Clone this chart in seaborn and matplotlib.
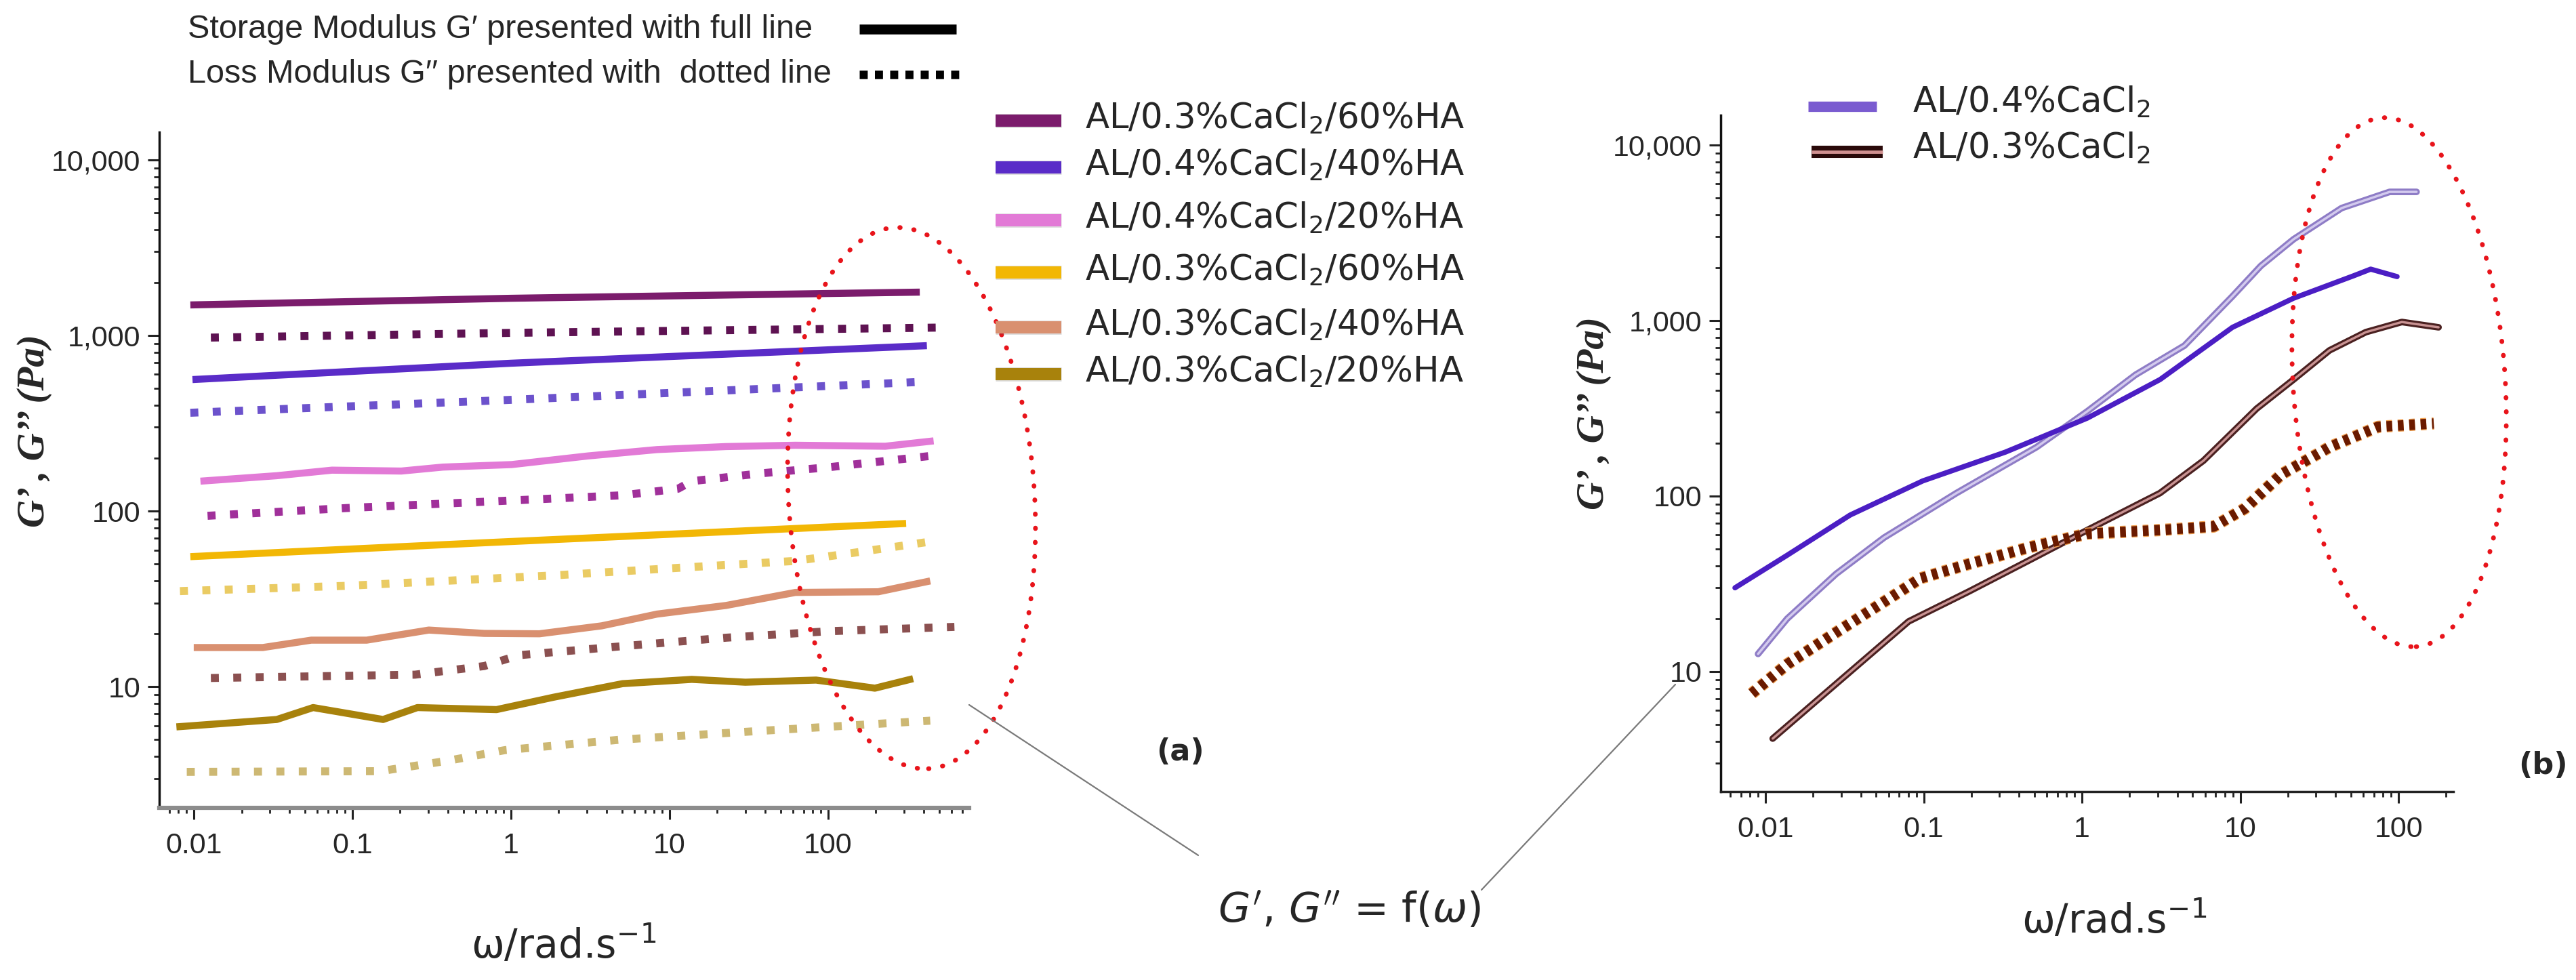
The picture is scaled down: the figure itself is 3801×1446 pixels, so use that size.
import matplotlib
matplotlib.use("Agg")
import matplotlib.pyplot as plt
import matplotlib.patheffects as pe
from matplotlib.patches import Ellipse
from matplotlib.lines import Line2D
from matplotlib.ticker import FixedLocator, FixedFormatter, LogLocator, NullFormatter
import seaborn as sns

sns.set_style("white")
plt.rcParams['font.family'] = ['DejaVu Sans']
NARROW = ['Liberation Sans Narrow', 'Liberation Sans', 'DejaVu Sans']
SERIF = ['Liberation Serif', 'DejaVu Serif']

# ---------------- data: panel (a) ----------------
labels_a = ["AL/0.3%CaCl$_2$/60%HA", "AL/0.4%CaCl$_2$/40%HA", "AL/0.4%CaCl$_2$/20%HA",
            "AL/0.3%CaCl$_2$/60%HA", "AL/0.3%CaCl$_2$/40%HA", "AL/0.3%CaCl$_2$/20%HA"]

w_a1_gp = [0.0095, 1.0, 378];  a1_gp = [1493, 1629, 1766]
w_a1_gpp = [0.0128, 1.0, 538]; a1_gpp = [973, 1035, 1110]

w_a2_gp = [0.0098, 1.0, 419];  a2_gp = [561, 695, 875]
w_a2_gpp = [0.0095, 1.0, 419]; a2_gpp = [363, 430, 546]

w_a3_gp = [0.0110, 0.0333, 0.0743, 0.203, 0.371, 1.01, 3.05, 8.34, 22.7, 62.1, 229, 462]
a3_gp = [148, 159, 171, 169, 178, 184, 206, 224, 233, 237, 234, 251]
w_a3_gpp = [0.0122, 0.091, 0.678, 5.05, 11.3, 13.8, 37.6, 102.6, 440]
a3_gpp = [94, 104, 113, 123, 134, 148, 164, 178, 206]

w_a4_gp = [0.0095, 0.678, 310]; a4_gp = [55, 66, 85]
w_a4_gpp = [0.00817, 0.091, 1.85, 13.8, 62.1, 169, 440]
a4_gpp = [35, 37.5, 43, 48, 52, 59, 67]

w_a5_gp = [0.00998, 0.0272, 0.0550, 0.123, 0.303, 0.678, 1.51, 3.73, 8.34, 22.7, 62.1, 207, 440]
a5_gp = [16.7, 16.7, 18.4, 18.4, 21, 20.1, 20, 22.2, 25.9, 29, 34.4, 34.7, 40]
w_a5_gpp = [0.0128, 0.248, 0.678, 1.12, 5.05, 22.7, 102.6, 625]
a5_gpp = [11.2, 11.7, 13.1, 15.1, 17, 19, 20.7, 21.9]

w_a6_gp = [0.00776, 0.0333, 0.0565, 0.156, 0.257, 0.81, 1.85, 5.05, 13.8, 30, 83.9, 197, 343]
a6_gp = [5.9, 6.5, 7.6, 6.5, 7.6, 7.4, 8.7, 10.4, 11.0, 10.6, 10.9, 9.8, 11.1]
w_a6_gpp = [0.00902, 0.150, 0.410, 0.916, 5.05, 37.6, 440]
a6_gpp = [3.27, 3.3, 3.8, 4.35, 5.0, 5.6, 6.4]

colors_a_solid = ["#7B1C6C", "#5A2CC8", "#E27AD6", "#F2B705", "#D99070", "#A8820C"]
colors_a_dot = ["#5E1252", "#6C52CC", "#A0309A", "#EACB63", "#8B5050", "#CDB873"]

# ---------------- data: panel (b) ----------------
labels_b = ["AL/0.4%CaCl$_2$", "AL/0.3%CaCl$_2$"]
w_b1_gp = [0.00897, 0.0137, 0.0279, 0.0562, 0.161, 0.516, 1.08, 2.18, 4.44, 8.93, 13.5, 21.7, 43.7, 87.9, 130]
b1_gp = [12.6, 20, 36, 58, 104, 190, 304, 491, 720, 1376, 2050, 2904, 4374, 5410, 5410]
w_b1_gpp = [0.00641, 0.0137, 0.0343, 0.0986, 0.328, 1.08, 3.11, 8.93, 21.7, 52.1, 66.7, 97.9]
b1_gpp = [30, 46, 78, 122, 178, 278, 461, 915, 1340, 1800, 1963, 1780]
w_b2_gp = [0.0111, 0.0279, 0.0802, 0.193, 0.463, 1.08, 3.11, 5.85, 12.7, 21.7, 36.6, 62.2, 105, 179]
b2_gp = [4.15, 8.5, 19.3, 28.6, 43, 64, 104, 159, 315, 461, 676, 859, 981, 915]
w_b2_gpp = [0.0082, 0.0137, 0.0279, 0.0562, 0.0955, 0.193, 0.463, 1.08, 3.11, 6.78, 10.7, 18.2, 30.6, 36.6, 74.3, 167]
b2_gpp = [7.5, 11, 16.7, 25, 34, 41, 51, 61, 64, 67, 85, 133, 173, 190, 248, 259]

yticks = [10, 100, 1000, 10000]
ytick_labels = ["10", "100", "1,000", "10,000"]
xticks = [0.01, 0.1, 1, 10, 100]
xtick_labels = ["0.01", "0.1", "1", "10", "100"]

# ---------------- figure ----------------
W, H = 3801, 1446
fig = plt.figure(figsize=(W / 100, H / 100), dpi=100)


def fbox(x0, y0, x1, y1):
    return [x0 / W, 1 - y1 / H, (x1 - x0) / W, (y1 - y0) / H]


def fx(x):
    return x / W


def fy(y):
    return 1 - y / H


axA = fig.add_axes(fbox(235, 195, 1430, 1192))
axB = fig.add_axes(fbox(2539, 170, 3620, 1168))

# panel (a) lines
sets_a = [(w_a1_gp, a1_gp, w_a1_gpp, a1_gpp), (w_a2_gp, a2_gp, w_a2_gpp, a2_gpp),
          (w_a3_gp, a3_gp, w_a3_gpp, a3_gpp), (w_a4_gp, a4_gp, w_a4_gpp, a4_gpp),
          (w_a5_gp, a5_gp, w_a5_gpp, a5_gpp), (w_a6_gp, a6_gp, w_a6_gpp, a6_gpp)]
for i, (wg, g, wgg, gg) in enumerate(sets_a):
    sns.lineplot(x=wg, y=g, ax=axA, color=colors_a_solid[i], lw=7.5, errorbar=None,
                 legend=False, solid_capstyle='butt', solid_joinstyle='round')
    sns.lineplot(x=wgg, y=gg, ax=axA, color=colors_a_dot[i], lw=8.5, errorbar=None,
                 legend=False, linestyle=(0, (1.0, 1.8)), dash_capstyle='butt')

# panel (b) lines
sns.lineplot(x=w_b1_gp, y=b1_gp, ax=axB, color="#D3CAEE", lw=2.5, errorbar=None, legend=False,
             path_effects=[pe.Stroke(linewidth=7, foreground="#8E7CC6"), pe.Normal()])
sns.lineplot(x=w_b1_gpp, y=b1_gpp, ax=axB, color="#4B1EC4", lw=5.5, errorbar=None, legend=False)
sns.lineplot(x=w_b2_gp, y=b2_gp, ax=axB, color="#C99393", lw=2.5, errorbar=None, legend=False,
             path_effects=[pe.Stroke(linewidth=7, foreground="#4A2020"), pe.Normal()])
sns.lineplot(x=w_b2_gpp, y=b2_gpp, ax=axB, color="#6A1A00", lw=11, errorbar=None, legend=False,
             linestyle=(0, (0.55, 0.55)), dash_capstyle='butt',
             path_effects=[pe.Stroke(linewidth=13, foreground="#F0A050"), pe.Normal()])

for ax, xlim, ylim, bottom_col in [(axA, (0.00605, 774), (2.04, 14390), "#8c8c8c"),
                                   (axB, (0.00521, 222), (2.07, 14790), "#222222")]:
    ax.set_xscale('log')
    ax.set_yscale('log')
    ax.set_xlim(*xlim)
    ax.set_ylim(*ylim)
    ax.set_facecolor('white')
    for s in ['top', 'right']:
        ax.spines[s].set_visible(False)
    ax.spines['left'].set_color('#111111')
    ax.spines['left'].set_linewidth(2.5)
    ax.spines['bottom'].set_color(bottom_col)
    ax.spines['bottom'].set_linewidth(4.5 if ax is axA else 2.5)
    ax.yaxis.set_major_locator(FixedLocator(yticks))
    ax.yaxis.set_major_formatter(FixedFormatter(ytick_labels))
    ax.xaxis.set_major_locator(FixedLocator(xticks))
    ax.xaxis.set_major_formatter(FixedFormatter(xtick_labels))
    ax.xaxis.set_minor_locator(LogLocator(base=10, subs=range(2, 10), numticks=20))
    ax.yaxis.set_minor_locator(LogLocator(base=10, subs=range(2, 10), numticks=20))
    ax.xaxis.set_minor_formatter(NullFormatter())
    ax.yaxis.set_minor_formatter(NullFormatter())
    ax.tick_params(which='major', direction='out', length=12, width=2.2, color='#222222',
                   labelsize=31, pad=8, bottom=True, left=True)
    ax.tick_params(which='minor', direction='out', length=6, width=2.0, color='#222222',
                   bottom=True, left=True)
    ax.tick_params(axis='x', pad=14)
    for lab in ax.get_xticklabels() + ax.get_yticklabels():
        lab.set_family(NARROW)
    ax.set_xlabel("")
    ax.set_ylabel("")

# y labels
ylab = "G’ , G’’ (Pa)"
fig.text(fx(51), fy(636), ylab, rotation=90, ha='center', va='center',
         fontsize=41, fontweight='bold', fontstyle='italic', family=SERIF)
fig.text(fx(2352), fy(610), ylab, rotation=90, ha='center', va='center',
         fontsize=41, fontweight='bold', fontstyle='italic', family=SERIF)

# x labels
fig.text(fx(832), fy(1395), r"ω/rad.s$^{\mathregular{-1}}$", ha='center', va='center', fontsize=42)
fig.text(fx(3120), fy(1358), r"ω/rad.s$^{\mathregular{-1}}$", ha='center', va='center', fontsize=42)

# panel tags
fig.text(fx(1742), fy(1110), "(a)", ha='center', va='center', fontsize=32, fontweight='bold')
fig.text(fx(3752), fy(1129), "(b)", ha='center', va='center', fontsize=32, fontweight='bold')

# central formula and connectors
fig.text(fx(1991), fy(1344), r"$G'$, $G''$ = f($\omega$)", ha='center', va='center', fontsize=44)
fig.add_artist(Line2D([fx(1430), fx(1768)], [fy(1040), fy(1262)], color='#7a7a7a', lw=1.6))
fig.add_artist(Line2D([fx(2186), fx(2472)], [fy(1313), fy(1010)], color='#7a7a7a', lw=1.6))

# top style legend
fig.text(fx(277), fy(43), "Storage Modulus G′ presented with full line", ha='left', va='center',
         fontsize=35, family=NARROW)
fig.text(fx(277), fy(110), "Loss Modulus G′′ presented with  dotted line", ha='left', va='center',
         fontsize=35, family=NARROW)
fig.add_artist(Line2D([fx(1268), fx(1411)], [fy(43), fy(43)], color='black', lw=10.5,
                      solid_capstyle='butt'))
fig.add_artist(Line2D([fx(1268), fx(1420)], [fy(110), fy(110)], color='black', lw=9,
                      linestyle=(0, (0.95, 0.85)), dash_capstyle='butt'))

# legend (a)
rows_a = [178, 247, 325, 402, 483, 552]
for i, lab in enumerate(labels_a):
    y = rows_a[i]
    fig.add_artist(Line2D([fx(1469), fx(1566)], [fy(y), fy(y)], color=colors_a_solid[i], lw=13,
                          solid_capstyle='butt',
                          path_effects=[pe.Stroke(linewidth=15, foreground='#55555533'), pe.Normal()]))
    fig.text(fx(1601), fy(y + 12), lab, ha='left', va='baseline', fontsize=37)

# legend (b)
fig.add_artist(Line2D([fx(2668), fx(2769)], [fy(157), fy(157)], color="#7A5BD0", lw=11,
                      solid_capstyle='butt'))
fig.add_artist(Line2D([fx(2673), fx(2778)], [fy(224), fy(224)], color="#2A0A0A", lw=13,
                      solid_capstyle='butt'))
fig.add_artist(Line2D([fx(2673), fx(2778)], [fy(224), fy(224)], color="#D09090", lw=3.5,
                      solid_capstyle='butt'))
fig.text(fx(2822), fy(166), labels_b[0], ha='left', va='baseline', fontsize=37)
fig.text(fx(2822), fy(234), labels_b[1], ha='left', va='baseline', fontsize=37)

# red dotted ellipses (highlight)
for cx, cy, ew, eh, ang in [(1345, 735, 363, 800, 3.6), (3540, 564, 313, 782, 3.7)]:
    e = Ellipse((cx / 100, (H - cy) / 100), ew / 100, eh / 100, angle=ang,
                transform=fig.dpi_scale_trans, fill=False, edgecolor='#E8141B', lw=5,
                linestyle=(0, (0.1, 2.9)))
    e.set_capstyle('round')
    fig.add_artist(e)

fig.savefig("out.png", dpi=100, facecolor='white')
